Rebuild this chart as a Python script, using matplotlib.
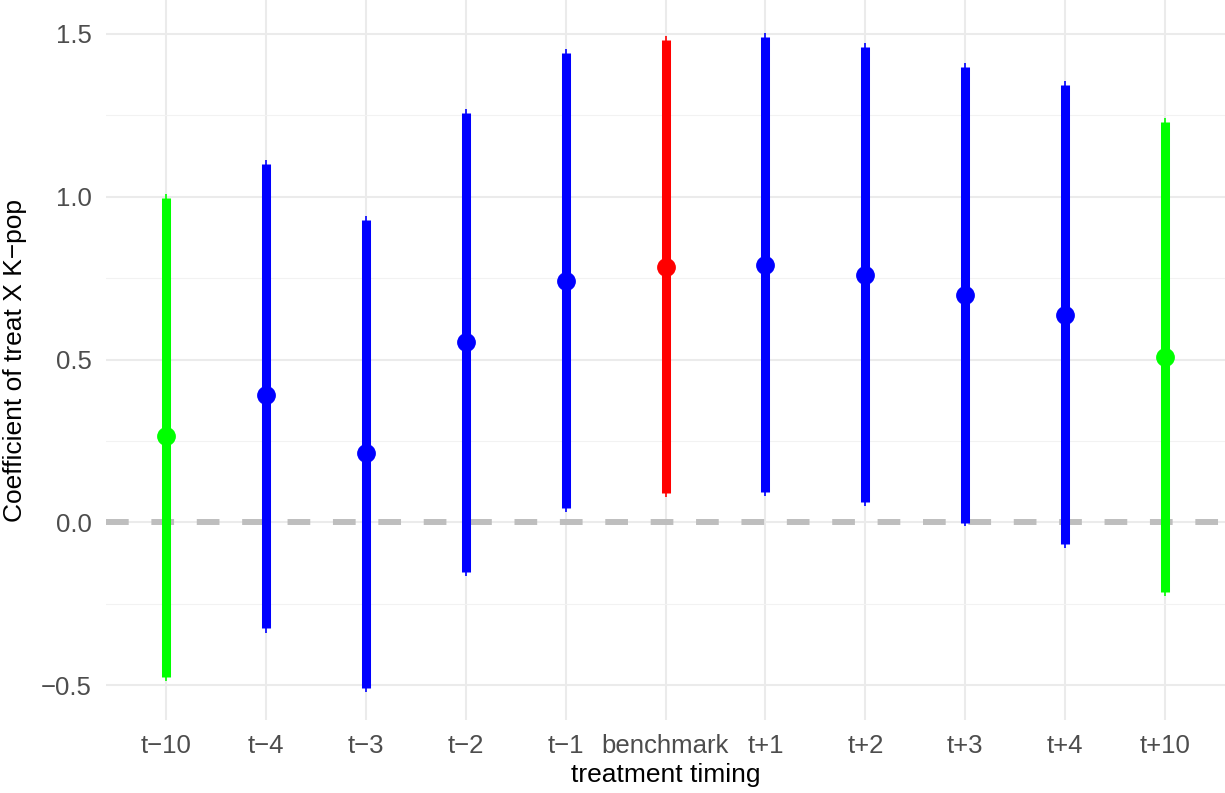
import matplotlib
matplotlib.use("Agg")
import matplotlib.pyplot as plt
from matplotlib.ticker import FixedLocator, MultipleLocator

plt.rcParams['font.family'] = ['Liberation Sans', 'DejaVu Sans']

categories = ["t\u221210", "t\u22124", "t\u22123", "t\u22122", "t\u22121", "benchmark",
              "t+1", "t+2", "t+3", "t+4", "t+10"]
estimate = [0.264, 0.390, 0.212, 0.555, 0.742, 0.785, 0.791, 0.758, 0.699, 0.638, 0.509]
thick_low = [-0.475, -0.325, -0.509, -0.153, 0.043, 0.089, 0.092, 0.061, -0.003, -0.067, -0.215]
thick_high = [0.997, 1.101, 0.929, 1.258, 1.442, 1.482, 1.491, 1.460, 1.399, 1.344, 1.230]
thin_low = [-0.488, -0.340, -0.521, -0.166, 0.031, 0.077, 0.080, 0.049, -0.012, -0.080, -0.227]
thin_high = [1.009, 1.113, 0.942, 1.270, 1.454, 1.494, 1.503, 1.472, 1.411, 1.356, 1.242]
colors = ["#00FF00", "#0000FF", "#0000FF", "#0000FF", "#0000FF", "#FF0000",
          "#0000FF", "#0000FF", "#0000FF", "#0000FF", "#00FF00"]
yticks = [-0.5, 0.0, 0.5, 1.0, 1.5]
ytick_labels = ["\u22120.5", "0.0", "0.5", "1.0", "1.5"]

fig = plt.figure(figsize=(12.25, 7.93), dpi=100)
ax = fig.add_axes([106 / 1225, 73 / 793, 1 - 106 / 1225, 1 - 73 / 793])

x = list(range(1, len(categories) + 1))

# grid
ax.set_axisbelow(True)
ax.yaxis.set_major_locator(FixedLocator(yticks))
ax.yaxis.set_minor_locator(MultipleLocator(0.25))
ax.grid(which='major', axis='both', color='#EBEBEB', linewidth=1.5)
ax.grid(which='minor', axis='y', color='#F2F2F2', linewidth=0.8)

# zero line
ax.axhline(0, color='#BEBEBE', linewidth=4.3, linestyle=(0, (3.8, 3.8)), zorder=1)

for xi, lo, hi, c in zip(x, thin_low, thin_high, colors):
    ax.vlines(xi, lo, hi, colors=c, linewidth=1.2, zorder=2)
for xi, lo, hi, c in zip(x, thick_low, thick_high, colors):
    ax.vlines(xi, lo, hi, colors=c, linewidth=6.5, zorder=3)
for xi, e, c in zip(x, estimate, colors):
    ax.plot(xi, e, 'o', color=c, markersize=12.5, zorder=4)

ax.set_xlim(0.4, 11.6)
ax.set_ylim(-0.607, 1.604)
ax.set_xticks(x)
ax.set_xticklabels(categories)
ax.set_yticklabels(ytick_labels)
ax.tick_params(axis='both', which='both', length=0, labelsize=18.5, labelcolor='#4D4D4D')
ax.tick_params(axis='x', pad=10)
ax.tick_params(axis='y', pad=10)
for s in ax.spines.values():
    s.set_visible(False)

ax.set_xlabel("treatment timing", fontsize=19, color='black', labelpad=4)
ax.set_ylabel("Coefficient of treat X K\u2212pop", fontsize=19, color='black', labelpad=10)

fig.savefig("out.png", dpi=100)
